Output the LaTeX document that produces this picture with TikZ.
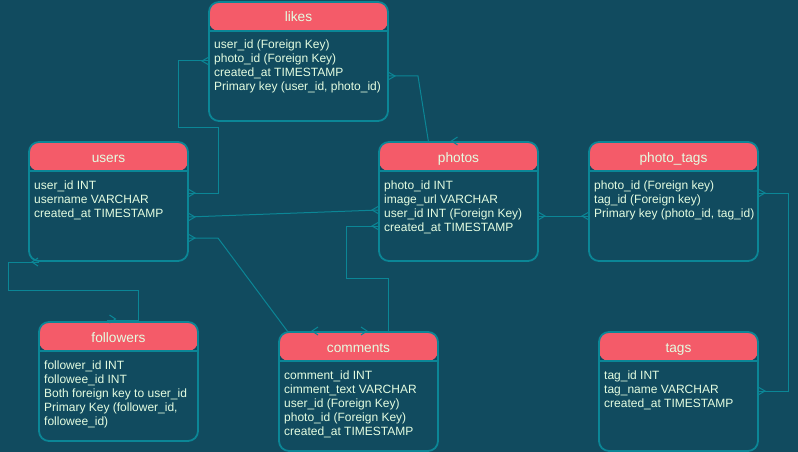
\documentclass[tikz,border=0pt]{standalone}
\usepackage{fontspec}
\setmainfont{Liberation Sans}
\usetikzlibrary{calc}

\definecolor{canvas}{HTML}{114B5F}
\definecolor{headred}{HTML}{F45B69}
\definecolor{tealline}{HTML}{0B8696}
\definecolor{ink}{HTML}{E4FDE1}

\tikzset{
  x=1pt, y=-1pt,
  tablebox/.style={draw=tealline, line width=1.8pt, fill=canvas,
    rounded corners=10pt, inner sep=0pt, outer sep=0pt,
    minimum height=119pt, anchor=north west,
    path picture={
      \fill[headred] (path picture bounding box.north west)
        rectangle ([yshift=-29pt]path picture bounding box.north east);
      \draw[tealline, line width=1.4pt]
        ([yshift=-29pt]path picture bounding box.north west)
        -- ([yshift=-29pt]path picture bounding box.north east);
    }},
  titletext/.style={text=ink, inner sep=0pt, anchor=base,
    font=\fontsize{13.7pt}{16pt}\selectfont},
  rowtext/.style={text=ink, inner sep=0pt, anchor=base west,
    font=\fontsize{12pt}{14pt}\selectfont},
  link/.style={draw=tealline, line width=1pt},
  crow/.pic={\draw[link] (0,-4) -- (-7,0) -- (0,4);},
  chev/.pic={\draw[link] (6,-4) -- (0,0) -- (6,4);},
}

% \ertable{name}{left}{top}{width}{title}{rows}
\newcommand\ertable[6]{%
  \node[tablebox, minimum width=#4pt] (#1) at (#2,#3) {};
  \node[titletext] (#1-title) at ([yshift=-20pt]#1.north) {#5};
  \foreach \r [count=\i] in {#6} {
    \node[rowtext] (#1-row\i)
      at ([xshift=5pt,yshift={-47pt-14pt*(\i-1)}]#1.north west) {\r};
  }
}

\begin{document}
\begin{tikzpicture}
  \fill[canvas] (0,0) rectangle (798,452);
  \useasboundingbox (0,0) rectangle (798,452);

  % tables
  \ertable{likes}{209}{2}{179}{likes}{user\_id (Foreign Key), photo\_id (Foreign Key),
    created\_at TIMESTAMP, {Primary key (user\_id, photo\_id)}}
  \ertable{users}{29}{142}{159}{users}{user\_id INT, username VARCHAR, created\_at TIMESTAMP}
  \ertable{photos}{379}{142}{159}{photos}{photo\_id INT, image\_url VARCHAR,
    user\_id INT (Foreign Key), created\_at TIMESTAMP}
  \ertable{phototags}{589}{142}{169}{photo\_tags}{photo\_id (Foreign key),
    tag\_id (Foreign key), {Primary key (photo\_id, tag\_id)}}
  \ertable{followers}{39}{322}{159}{followers}{follower\_id INT, followee\_id INT,
    Both foreign key to user\_id, {Primary Key (follower\_id,}, followee\_id)}
  \ertable{comments}{279}{332}{159}{comments}{comment\_id INT, cimment\_text VARCHAR,
    user\_id (Foreign Key), photo\_id (Foreign Key), created\_at TIMESTAMP}
  \ertable{tags}{599}{332}{159}{tags}{tag\_id INT, tag\_name VARCHAR, created\_at TIMESTAMP}

  % likes -- users
  \draw[link] ([yshift=-59pt]likes.north west) -| (178,127) -| (218,193)
    -- ([yshift=-51pt]users.north east);
  \pic at ([yshift=-59pt]likes.north west) {crow};
  \pic[rotate=180] at ([yshift=-51pt]users.north east) {crow};

  % users -- photos
  \draw[link] ([yshift=-75pt]users.north east) -- ([yshift=-68pt]photos.north west);
  \pic[rotate=180] at ([yshift=-75pt]users.north east) {crow};
  \pic at ([yshift=-68pt]photos.north west) {crow};

  % likes -- photos
  \draw[link] ([yshift=-74pt]likes.north east) -- (418,76)
    -- ([xshift=-30pt]photos.north);
  \pic[rotate=180] at ([yshift=-74pt]likes.north east) {crow};
  \pic at ([xshift=-7pt,yshift=1pt]photos.north) {chev};

  % photos -- photo_tags
  \draw[link] ([yshift=-74pt]photos.north east) -- ([yshift=-74pt]phototags.north west);
  \pic[rotate=180] at ([yshift=-74pt]photos.north east) {crow};
  \pic at ([yshift=-74pt]phototags.north west) {crow};

  % photo_tags -- tags
  \draw[link] ([yshift=-51pt]phototags.north east) -| (788,391)
    -- ([yshift=-59pt]tags.north east);
  \pic[rotate=180] at ([yshift=-51pt]phototags.north east) {crow};
  \pic[rotate=180] at ([yshift=-59pt]tags.north east) {crow};

  % users -- followers
  \draw[link] ([xshift=10pt,yshift=-1pt]users.south west) -- (8,262) -- (8,290)
    -| (138,320) -- ([xshift=-12pt,yshift=2pt]followers.north);
  \pic at ([xshift=3pt,yshift=-1pt]users.south west) {chev};
  \pic[rotate=180] at ([xshift=-3pt,yshift=3pt]followers.north) {chev};

  % users -- comments
  \draw[link] ([yshift=-96pt]users.north east) -- (218,238)
    -- ([xshift=9pt]comments.north west);
  \pic[rotate=180] at ([yshift=-96pt]users.north east) {crow};
  \pic at ([xshift=33pt,yshift=1pt]comments.north west) {chev};
  \pic[rotate=180] at ([xshift=88pt,yshift=1pt]comments.north west) {chev};

  % photos -- comments
  \draw[link] ([yshift=-84pt]photos.north west) -- (346,226) -- (346,278)
    -| ([xshift=-50pt]comments.north east);
  \pic at ([yshift=-84pt]photos.north west) {crow};
\end{tikzpicture}
\end{document}
